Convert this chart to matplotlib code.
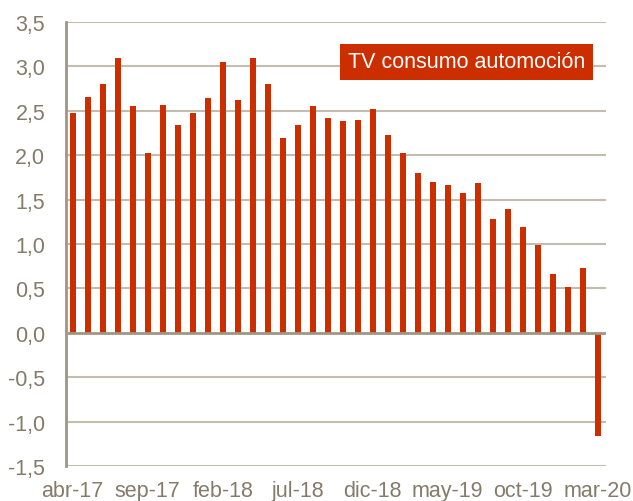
import matplotlib
matplotlib.use("Agg")
import matplotlib.pyplot as plt

plt.rcParams['font.family'] = ['Liberation Sans', 'DejaVu Sans']

months = ["abr-17", "may-17", "jun-17", "jul-17", "ago-17", "sep-17", "oct-17", "nov-17", "dic-17",
          "ene-18", "feb-18", "mar-18", "abr-18", "may-18", "jun-18", "jul-18", "ago-18", "sep-18",
          "oct-18", "nov-18", "dic-18", "ene-19", "feb-19", "mar-19", "abr-19", "may-19", "jun-19",
          "jul-19", "ago-19", "sep-19", "oct-19", "nov-19", "dic-19", "ene-20", "feb-20", "mar-20"]
values = [2.48, 2.65, 2.80, 3.09, 2.55, 2.02, 2.57, 2.34, 2.47, 2.64, 3.05, 2.62,
          3.10, 2.80, 2.19, 2.34, 2.55, 2.42, 2.38, 2.40, 2.52, 2.23, 2.03, 1.80,
          1.70, 1.66, 1.57, 1.69, 1.28, 1.39, 1.19, 0.99, 0.66, 0.52, 0.73, -1.16]
yticks = [-1.5, -1.0, -0.5, 0.0, 0.5, 1.0, 1.5, 2.0, 2.5, 3.0, 3.5]
ytick_labels = ["-1,5", "-1,0", "-0,5", "0,0", "0,5", "1,0", "1,5", "2,0", "2,5", "3,0", "3,5"]
label_title = "TV consumo automoción"

bar_color = "#cc2e00"
grid_color = "#c2bdb0"
axis_color = "#a09684"
text_color = "#847b6a"

fig = plt.figure(figsize=(6.33, 5.02), dpi=100)
ax = fig.add_axes([66/633, 35/502, 540/633, 444/502])

x = list(range(len(values)))
ax.bar(x, values, width=0.42, color=bar_color, zorder=3)

ax.set_xlim(-0.45, len(values) - 0.45)
ax.set_ylim(-1.5, 3.5)
ax.set_yticks(yticks)
ax.set_yticklabels(ytick_labels)
ax.set_xticks(x[::5])
ax.set_xticklabels(months[::5])

for y in yticks:
    if y != 0:
        ax.axhline(y, color=grid_color, lw=1.5, zorder=1)
ax.axhline(0, color=axis_color, lw=2, zorder=4)

for s in ["top", "right", "bottom"]:
    ax.spines[s].set_visible(False)
ax.spines["left"].set_color(axis_color)
ax.spines["left"].set_linewidth(2)

ax.tick_params(axis="both", length=0, labelsize=15.5, colors=text_color)
ax.tick_params(axis="y", pad=15)
ax.tick_params(axis="x", pad=10)

ax.text(0.522, 0.91, label_title, transform=ax.transAxes, fontsize=15.5,
        color="white", ha="left", va="center", zorder=5,
        bbox=dict(boxstyle="square,pad=0.36", facecolor=bar_color, edgecolor="none"))

fig.savefig("out.png", dpi=100)
